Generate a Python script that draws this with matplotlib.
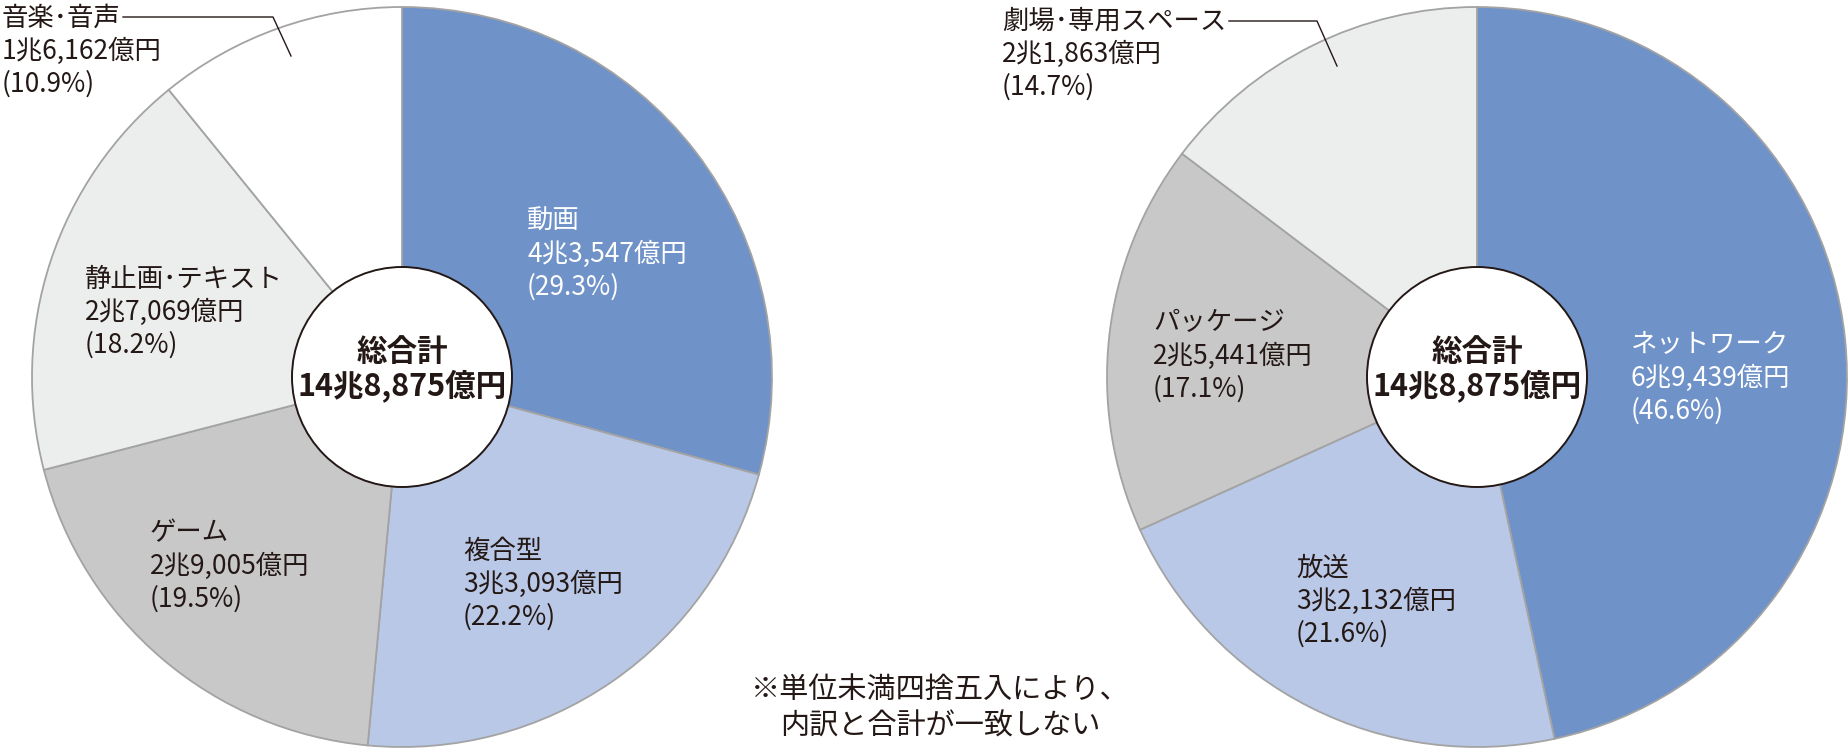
import matplotlib
matplotlib.use("Agg")
import matplotlib.pyplot as plt
from matplotlib.patches import Circle

plt.rcParams['font.family'] = ['Noto Sans CJK JP', 'DejaVu Sans']

# ---- data (億円) ----
left_categories = ["動画", "複合型", "ゲーム", "静止画･テキスト", "音楽･音声"]
left_values = [43547, 33093, 29005, 27069, 16162]
left_percents = [29.3, 22.2, 19.5, 18.2, 10.9]

right_categories = ["ネットワーク", "放送", "パッケージ", "劇場･専用スペース"]
right_values = [69439, 32132, 25441, 21863]
right_percents = [46.6, 21.6, 17.1, 14.7]

total_title = "総合計"
total_label = "14兆8,875億円"
note_lines = ["※単位未満四捨五入により、", "内訳と合計が一致しない"]

# ---- styles / layout (pixels, y measured from top) ----
W, H = 1849, 750
BLUE, LBLUE, GRAY, LGRAY, WHITE = "#6f92c8", "#b9c8e6", "#c8c8c8", "#eceeed", "#ffffff"
left_colors = [BLUE, LBLUE, GRAY, LGRAY, WHITE]
right_colors = [BLUE, LBLUE, GRAY, LGRAY]
left_text_colors = ["white", "#231815", "#231815", "#231815", "#231815"]
right_text_colors = ["white", "#231815", "#231815", "#231815"]
left_label_pos = [(527, 221), (463, 551), (150, 533), (85, 279), (2, 18)]
right_label_pos = [(1631, 345), (1296, 568), (1153, 323), (1002, 21)]
left_center = (402, 377)
right_center = (1477, 377)
R = 370
R_IN = 110
LINE_GAP = 33
LABEL_FS = 19
TEXT_DARK = "#231815"


def fmt_value(v):
    return f"{v // 10000}兆{v % 10000:,}億円"


fig = plt.figure(figsize=(W / 100, H / 100), dpi=100)
ax = fig.add_axes([0, 0, 1, 1])


def draw(values, colors, center, cats, pcts, positions, tcolors):
    cx, cy = center
    ax.pie(values, colors=colors, startangle=90, counterclock=False,
           center=(cx, H - cy), radius=R,
           wedgeprops=dict(edgecolor="#a3a3a3", linewidth=1.3))
    ax.add_patch(Circle((cx, H - cy), R_IN, facecolor="white",
                        edgecolor=TEXT_DARK, linewidth=1.4, zorder=3))
    ax.text(cx, H - 352, total_title, ha="center", va="center",
            fontsize=22, fontweight="bold", color=TEXT_DARK, zorder=4)
    ax.text(cx, H - 387, total_label, ha="center", va="center",
            fontsize=22, fontweight="bold", color=TEXT_DARK, zorder=4)
    for cat, v, p, (x, y), tc in zip(cats, values, pcts, positions, tcolors):
        lines = [cat, fmt_value(v), f"({p:.1f}%)"]
        for i, s in enumerate(lines):
            ax.text(x, H - (y + i * LINE_GAP), s, ha="left", va="center",
                    fontsize=LABEL_FS, color=tc, zorder=4)


draw(left_values, left_colors, left_center, left_categories, left_percents,
     left_label_pos, left_text_colors)
draw(right_values, right_colors, right_center, right_categories, right_percents,
     right_label_pos, right_text_colors)

# leader lines
ax.plot([123, 273, 291], [H - 17, H - 17, H - 56], color=TEXT_DARK, lw=1.0, zorder=5)
ax.plot([1229, 1317, 1337], [H - 21, H - 21, H - 66], color=TEXT_DARK, lw=1.0, zorder=5)

# note
ax.text(940, H - 690, note_lines[0], ha="center", va="center",
        fontsize=21, color=TEXT_DARK)
ax.text(940, H - 727, note_lines[1], ha="center", va="center",
        fontsize=21, color=TEXT_DARK)

ax.set_xlim(0, W)
ax.set_ylim(0, H)
ax.set_aspect("equal")
ax.axis("off")
fig.savefig("out.png", dpi=100)
